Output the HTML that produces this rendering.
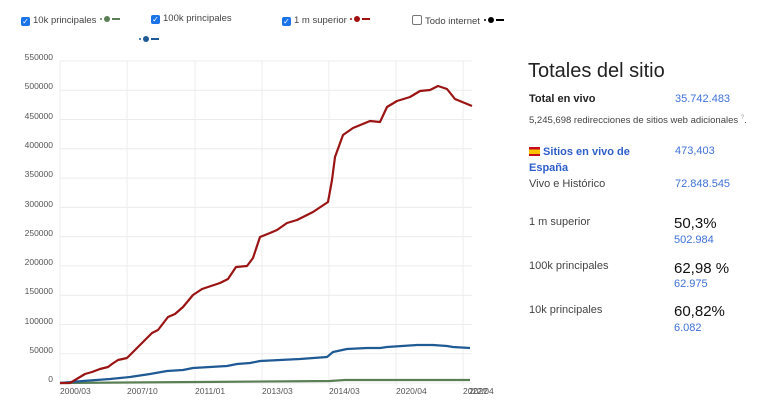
<!DOCTYPE html>
<html><head><meta charset="utf-8"><style>
body{margin:0;width:782px;height:408px;background:#fff;font-family:"Liberation Sans",sans-serif;position:relative;overflow:hidden}
.a{position:absolute;white-space:nowrap}
.lg{font-size:9.5px;color:#444}
.cb{display:inline-block;width:9px;height:9px;background:#1a73e8;border-radius:2px;vertical-align:-1px;margin-right:3px;color:#fff;font-size:8px;line-height:9px;text-align:center}
.cbe{display:inline-block;width:8px;height:8px;border:1px solid #777;border-radius:2px;vertical-align:-1px;margin-right:3px}
.r{color:#222;font-size:11px}
.b{color:#3f72d6;font-size:11px}
.big{font-size:15px;color:#111}
</style></head><body>
<div class="a lg" style="left:21px;top:15px"><span class="cb">✓</span>10k principales <svg width="24" height="8"><circle cx="2" cy="4" r="1" fill="#5a7f55"/><circle cx="8" cy="4" r="3" fill="#5a7f55"/><line x1="13" y1="4" x2="21" y2="4" stroke="#5a7f55" stroke-width="2"/></svg></div>
<div class="a lg" style="left:151px;top:13px"><span class="cb">✓</span>100k principales</div>
<svg class="a" style="left:138px;top:35px" width="24" height="8"><circle cx="2" cy="4" r="1" fill="#1f5a94"/><circle cx="8" cy="4" r="3" fill="#1f5a94"/><line x1="13" y1="4" x2="21" y2="4" stroke="#1f5a94" stroke-width="2"/></svg>
<div class="a lg" style="left:282px;top:15px"><span class="cb">✓</span>1 m superior <svg width="24" height="8"><circle cx="2" cy="4" r="1" fill="#a01010"/><circle cx="8" cy="4" r="3" fill="#a01010"/><line x1="13" y1="4" x2="21" y2="4" stroke="#a01010" stroke-width="2"/></svg></div>
<div class="a lg" style="left:412px;top:15px"><span class="cbe"></span>Todo internet <svg width="24" height="8"><circle cx="2" cy="4" r="1" fill="#000"/><circle cx="8" cy="4" r="3" fill="#000"/><line x1="13" y1="4" x2="21" y2="4" stroke="#000" stroke-width="2"/></svg></div>

<svg class="a" style="left:0;top:0" width="520" height="408" font-family="Liberation Sans" font-size="8.5" fill="#555">
<g stroke="#ececec" stroke-width="1">
<line x1="60" y1="383" x2="472" y2="383"/><line x1="60" y1="353.7" x2="472" y2="353.7"/><line x1="60" y1="324.5" x2="472" y2="324.5"/><line x1="60" y1="295.2" x2="472" y2="295.2"/><line x1="60" y1="265.9" x2="472" y2="265.9"/><line x1="60" y1="236.6" x2="472" y2="236.6"/><line x1="60" y1="207.4" x2="472" y2="207.4"/><line x1="60" y1="178.1" x2="472" y2="178.1"/><line x1="60" y1="148.8" x2="472" y2="148.8"/><line x1="60" y1="119.5" x2="472" y2="119.5"/><line x1="60" y1="90.3" x2="472" y2="90.3"/><line x1="60" y1="61" x2="472" y2="61"/>
<line x1="60" y1="61" x2="60" y2="386"/><line x1="127" y1="61" x2="127" y2="386"/><line x1="195" y1="61" x2="195" y2="386"/><line x1="262" y1="61" x2="262" y2="386"/><line x1="329" y1="61" x2="329" y2="386"/><line x1="396" y1="61" x2="396" y2="386"/><line x1="463" y1="61" x2="463" y2="386"/>
</g>
<g text-anchor="end">
<text x="53" y="382">0</text><text x="53" y="353">50000</text><text x="53" y="324">100000</text><text x="53" y="294">150000</text><text x="53" y="265">200000</text><text x="53" y="236">250000</text><text x="53" y="207">300000</text><text x="53" y="177">350000</text><text x="53" y="148">400000</text><text x="53" y="119">450000</text><text x="53" y="89">500000</text><text x="53" y="60">550000</text>
</g>
<g>
<text x="60" y="394">2000/03</text><text x="127" y="394">2007/10</text><text x="195" y="394">2011/01</text><text x="262" y="394">2013/03</text><text x="329" y="394">2014/03</text><text x="396" y="394">2020/04</text><text x="463" y="394">2022/04</text><text x="469" y="394">2022</text>
</g>
<polyline fill="none" stroke="#5a7f55" stroke-width="2.2" stroke-linejoin="round" points="60,383 200,382 330,381 345,380 470,380"/>
<polyline fill="none" stroke="#1f5a94" stroke-width="2.2" stroke-linejoin="round" points="60,383 83,381 110,379 120,378 130,377 150,374 167,371 183,370 193,368 227,366 237,364 250,363 260,361 300,359 327,357 333,352 347,349 367,348 380,348 387,347 417,345 433,345 447,346 453,347 470,348"/>
<polyline fill="none" stroke="#9b1414" stroke-width="2.2" stroke-linejoin="round" points="60,383 70,383 75,380 85,374 92,372 100,369 108,367 112,364 118,360 127,358 137,348 152,333 158,330 168,317 175,314 183,307 193,295 202,289 220,283 228,279 236,267 247,266 253,258 260,237 270,233 277,230 287,223 297,220 313,212 328,202 332,180 335,157 343,135 353,128 370,121 380,122 387,107 397,101 410,97 420,91 430,90 438,86 447,89 455,99 472,106"/>
</svg>

<div class="a" style="left:528px;top:60px;font-size:20px;color:#222">Totales del sitio</div>
<div class="a r" style="left:529px;top:93px;font-weight:bold">Total en vivo</div>
<div class="a b" style="left:675px;top:93px">35.742.483</div>
<div class="a" style="left:529px;top:115px;font-size:9.5px;color:#444">5,245,698 redirecciones de sitios web adicionales <sup style="font-size:6px;color:#999">?</sup>.</div>
<div class="a" style="left:529px;top:144px;font-size:11px;font-weight:bold;color:#2e5fc9;line-height:16px"><span style="display:inline-block;width:11px;height:9px;background:linear-gradient(#c60b1e 25%,#ffc400 25%,#ffc400 75%,#c60b1e 75%);vertical-align:-1px"></span> Sitios en vivo de<br>España</div>
<div class="a b" style="left:675px;top:145px">473,403</div>
<div class="a r" style="left:529px;top:178px;color:#444">Vivo e Histórico</div>
<div class="a b" style="left:675px;top:178px">72.848.545</div>
<div class="a r" style="left:529px;top:216px;color:#444">1 m superior</div>
<div class="a big" style="left:674px;top:215px">50,3%</div>
<div class="a b" style="left:674px;top:234px">502.984</div>
<div class="a r" style="left:529px;top:260px;color:#444">100k principales</div>
<div class="a big" style="left:674px;top:260px">62,98 %</div>
<div class="a b" style="left:674px;top:278px">62.975</div>
<div class="a r" style="left:529px;top:304px;color:#444">10k principales</div>
<div class="a big" style="left:674px;top:303px">60,82%</div>
<div class="a b" style="left:674px;top:322px">6.082</div>
</body></html>
